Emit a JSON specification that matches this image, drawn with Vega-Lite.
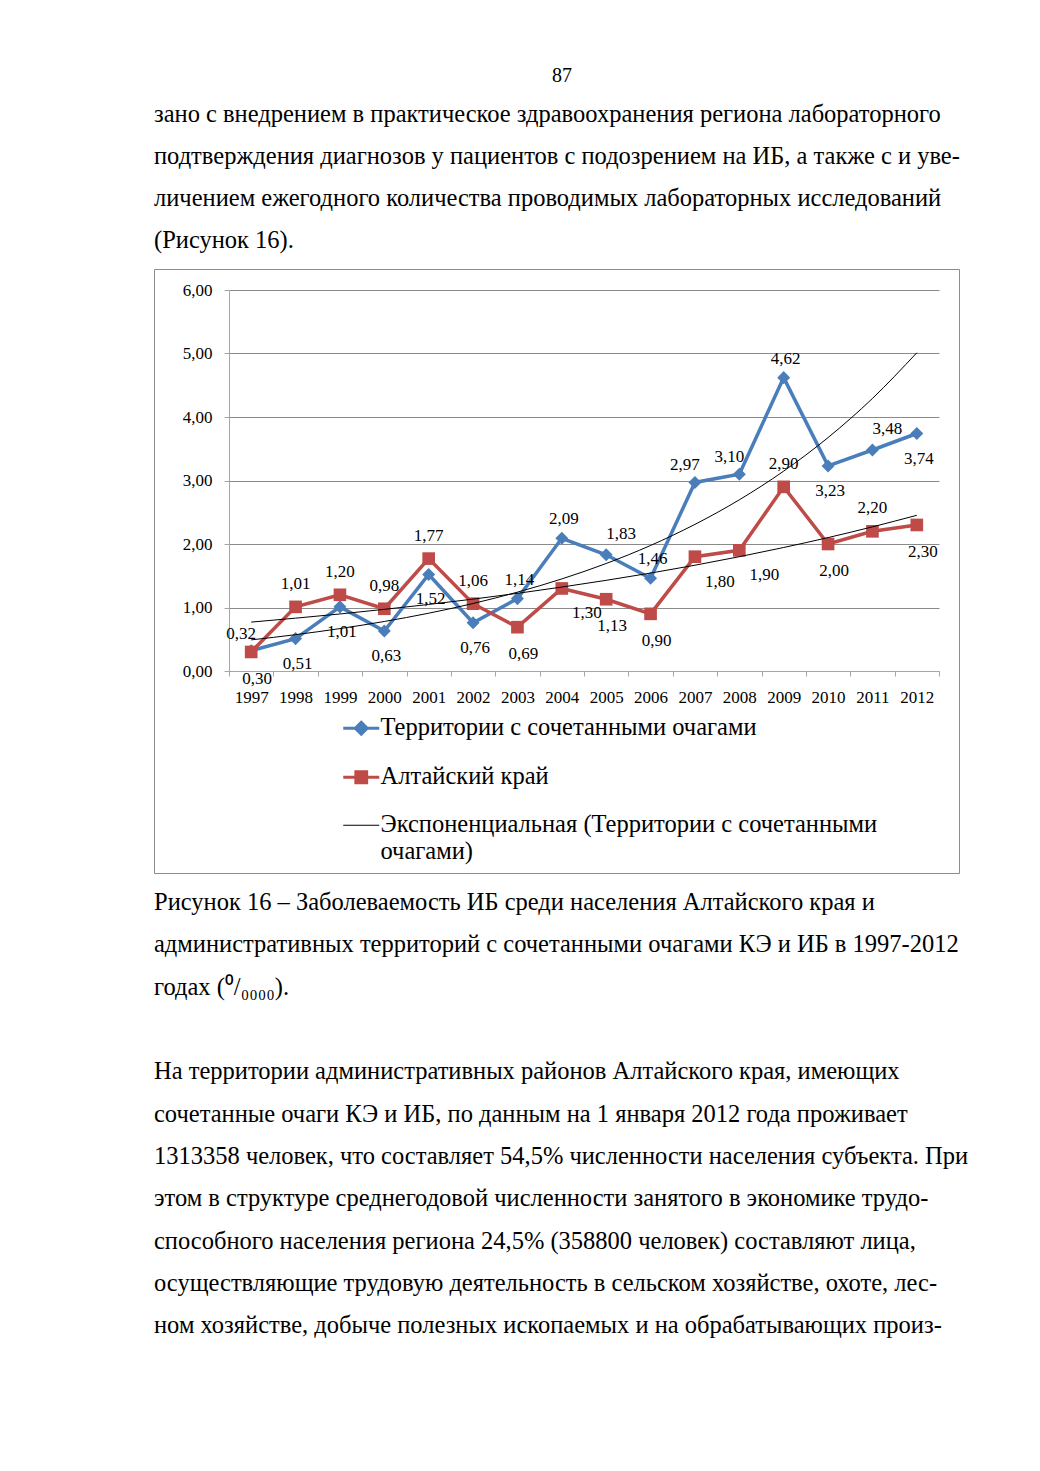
{
  "$schema": "https://vega.github.io/schema/vega-lite/v6.json",
  "background": "white",
  "padding": {"left": 153, "top": 66, "right": 0, "bottom": 0},
  "autosize": {"type": "pad"},
  "spacing": 8,
  "config": {
    "view": {"stroke": null},
    "font": "Liberation Serif",
    "locale": {"number": {"decimal": ",", "thousands": " ", "grouping": [3], "currency": ["", ""]}}
  },
  "datasets": {
    "pageTop": [
      {"line": 0, "text": "зано с внедрением в практическое здравоохранения региона лабораторного"},
      {"line": 1, "text": "подтверждения диагнозов у пациентов с подозрением на ИБ, а также с и уве-"},
      {"line": 2, "text": "личением ежегодного количества проводимых лабораторных исследований"},
      {"line": 3, "text": "(Рисунок 16)."}
    ],
    "pageBottom": [
      {"line": 0, "text": "          Рисунок 16 – Заболеваемость ИБ среди населения Алтайского края и"},
      {"line": 1, "text": "административных территорий с сочетанными очагами КЭ и ИБ в 1997-2012"},
      {"line": 2, "text": "годах (⁰/₀₀₀₀)."},
      {"line": 3, "text": ""},
      {"line": 4, "text": "          На территории административных районов Алтайского края, имеющих"},
      {"line": 5, "text": "сочетанные очаги КЭ и ИБ, по данным на 1 января 2012 года проживает"},
      {"line": 6, "text": "1313358 человек, что составляет 54,5% численности населения субъекта. При"},
      {"line": 7, "text": "этом в структуре среднегодовой численности занятого в экономике трудо-"},
      {"line": 8, "text": "способного населения региона 24,5% (358800 человек) составляют лица,"},
      {"line": 9, "text": "осуществляющие трудовую деятельность в сельском хозяйстве, охоте, лес-"},
      {"line": 10, "text": "ном хозяйстве, добыче полезных ископаемых и на обрабатывающих произ-"}
    ],
    "chart": [
      {"year": "1997", "series": "Территории с сочетанными очагами", "value": 0.32},
      {"year": "1998", "series": "Территории с сочетанными очагами", "value": 0.51},
      {"year": "1999", "series": "Территории с сочетанными очагами", "value": 1.01},
      {"year": "2000", "series": "Территории с сочетанными очагами", "value": 0.63},
      {"year": "2001", "series": "Территории с сочетанными очагами", "value": 1.52},
      {"year": "2002", "series": "Территории с сочетанными очагами", "value": 0.76},
      {"year": "2003", "series": "Территории с сочетанными очагами", "value": 1.14},
      {"year": "2004", "series": "Территории с сочетанными очагами", "value": 2.09},
      {"year": "2005", "series": "Территории с сочетанными очагами", "value": 1.83},
      {"year": "2006", "series": "Территории с сочетанными очагами", "value": 1.46},
      {"year": "2007", "series": "Территории с сочетанными очагами", "value": 2.97},
      {"year": "2008", "series": "Территории с сочетанными очагами", "value": 3.10},
      {"year": "2009", "series": "Территории с сочетанными очагами", "value": 4.62},
      {"year": "2010", "series": "Территории с сочетанными очагами", "value": 3.23},
      {"year": "2011", "series": "Территории с сочетанными очагами", "value": 3.48},
      {"year": "2012", "series": "Территории с сочетанными очагами", "value": 3.74},
      {"year": "1997", "series": "Алтайский край", "value": 0.30},
      {"year": "1998", "series": "Алтайский край", "value": 1.01},
      {"year": "1999", "series": "Алтайский край", "value": 1.20},
      {"year": "2000", "series": "Алтайский край", "value": 0.98},
      {"year": "2001", "series": "Алтайский край", "value": 1.77},
      {"year": "2002", "series": "Алтайский край", "value": 1.06},
      {"year": "2003", "series": "Алтайский край", "value": 0.69},
      {"year": "2004", "series": "Алтайский край", "value": 1.30},
      {"year": "2005", "series": "Алтайский край", "value": 1.13},
      {"year": "2006", "series": "Алтайский край", "value": 0.90},
      {"year": "2007", "series": "Алтайский край", "value": 1.80},
      {"year": "2008", "series": "Алтайский край", "value": 1.90},
      {"year": "2009", "series": "Алтайский край", "value": 2.90},
      {"year": "2010", "series": "Алтайский край", "value": 2.00},
      {"year": "2011", "series": "Алтайский край", "value": 2.20},
      {"year": "2012", "series": "Алтайский край", "value": 2.30},
      {"year": "1997", "series": "Экспоненциальная (Территории с сочетанными очагами)", "value": 0.490},
      {"year": "1998", "series": "Экспоненциальная (Территории с сочетанными очагами)", "value": 0.572},
      {"year": "1999", "series": "Экспоненциальная (Территории с сочетанными очагами)", "value": 0.668},
      {"year": "2000", "series": "Экспоненциальная (Территории с сочетанными очагами)", "value": 0.780},
      {"year": "2001", "series": "Экспоненциальная (Территории с сочетанными очагами)", "value": 0.910},
      {"year": "2002", "series": "Экспоненциальная (Территории с сочетанными очагами)", "value": 1.063},
      {"year": "2003", "series": "Экспоненциальная (Территории с сочетанными очагами)", "value": 1.242},
      {"year": "2004", "series": "Экспоненциальная (Территории с сочетанными очагами)", "value": 1.450},
      {"year": "2005", "series": "Экспоненциальная (Территории с сочетанными очагами)", "value": 1.693},
      {"year": "2006", "series": "Экспоненциальная (Территории с сочетанными очагами)", "value": 1.977},
      {"year": "2007", "series": "Экспоненциальная (Территории с сочетанными очагами)", "value": 2.309},
      {"year": "2008", "series": "Экспоненциальная (Территории с сочетанными очагами)", "value": 2.696},
      {"year": "2009", "series": "Экспоненциальная (Территории с сочетанными очагами)", "value": 3.148},
      {"year": "2010", "series": "Экспоненциальная (Территории с сочетанными очагами)", "value": 3.676},
      {"year": "2011", "series": "Экспоненциальная (Территории с сочетанными очагами)", "value": 4.292},
      {"year": "2012", "series": "Экспоненциальная (Территории с сочетанными очагами)", "value": 5.012},
      {"year": "1997", "series": "Экспоненциальная (Алтайский край)", "value": 0.770},
      {"year": "1998", "series": "Экспоненциальная (Алтайский край)", "value": 0.832},
      {"year": "1999", "series": "Экспоненциальная (Алтайский край)", "value": 0.898},
      {"year": "2000", "series": "Экспоненциальная (Алтайский край)", "value": 0.971},
      {"year": "2001", "series": "Экспоненциальная (Алтайский край)", "value": 1.048},
      {"year": "2002", "series": "Экспоненциальная (Алтайский край)", "value": 1.132},
      {"year": "2003", "series": "Экспоненциальная (Алтайский край)", "value": 1.223},
      {"year": "2004", "series": "Экспоненциальная (Алтайский край)", "value": 1.322},
      {"year": "2005", "series": "Экспоненциальная (Алтайский край)", "value": 1.428},
      {"year": "2006", "series": "Экспоненциальная (Алтайский край)", "value": 1.542},
      {"year": "2007", "series": "Экспоненциальная (Алтайский край)", "value": 1.666},
      {"year": "2008", "series": "Экспоненциальная (Алтайский край)", "value": 1.800},
      {"year": "2009", "series": "Экспоненциальная (Алтайский край)", "value": 1.945},
      {"year": "2010", "series": "Экспоненциальная (Алтайский край)", "value": 2.101},
      {"year": "2011", "series": "Экспоненциальная (Алтайский край)", "value": 2.270},
      {"year": "2012", "series": "Экспоненциальная (Алтайский край)", "value": 2.452}
    ]
  },
  "vconcat": [
    {
      "width": 816,
      "height": 166,
      "title": {"text": "87", "anchor": "middle", "frame": "group", "font": "Liberation Serif", "fontSize": 20, "fontWeight": "normal", "color": "black", "offset": 8},
      "data": {"name": "pageTop"},
      "mark": {"type": "text", "align": "left", "baseline": "middle", "font": "Liberation Serif", "fontSize": 24.5, "color": "black"},
      "encoding": {
        "y": {"field": "line", "type": "ordinal", "axis": null, "scale": {"type": "point", "range": [21, 147], "padding": 0}},
        "x": {"value": 0},
        "text": {"field": "text"}
      }
    },
    {
      "width": 805,
      "height": 604,
      "view": {"stroke": "#8C8C8C", "strokeWidth": 1},
      "data": {"name": "chart"},
      "encoding": {
        "x": {
          "field": "year", "type": "ordinal",
          "scale": {"type": "band", "range": [75, 785], "paddingInner": 0, "paddingOuter": 0},
          "axis": {"title": null, "offset": -202, "tickBand": "extent", "tickSize": 5, "domainColor": "#A6A6A6", "tickColor": "#A6A6A6", "labelFont": "Liberation Serif", "labelFontSize": 17, "labelColor": "black", "labelPadding": 13, "labelAngle": 0, "grid": false}
        },
        "y": {
          "field": "value", "type": "quantitative",
          "scale": {"domain": [0, 6], "range": [402, 21], "nice": false, "zero": false},
          "axis": {"title": null, "values": [0, 1, 2, 3, 4, 5, 6], "format": ".2f", "offset": -75, "grid": true, "gridColor": "#8A8A8A", "gridWidth": 1, "domainColor": "#A6A6A6", "tickColor": "#A6A6A6", "tickSize": 5, "labelFont": "Liberation Serif", "labelFontSize": 17, "labelColor": "black", "labelPadding": 12}
        },
        "color": {
          "field": "series", "type": "nominal",
          "scale": {"domain": ["Территории с сочетанными очагами", "Алтайский край", "Экспоненциальная (Территории с сочетанными очагами)"], "range": ["#4A7EBB", "#BE4B48", "#000000"]},
          "legend": {
            "title": null, "orient": "none", "legendX": 195, "legendY": 622, "direction": "vertical", "padding": 0,
            "labelFont": "Liberation Serif", "labelFontSize": 24.5, "labelColor": "black", "labelLimit": 800, "labelOffset": 7, "rowPadding": 23,
            "symbolSize": 1296, "symbolStrokeWidth": 3,
            "labelExpr": "datum.label == 'Экспоненциальная (Территории с сочетанными очагами)' ? ['Экспоненциальная (Территории с сочетанными', 'очагами)'] : datum.label",
            "encode": {
              "symbols": {"update": {
                "shape": {"signal": "datum.value == 'Территории с сочетанными очагами' ? 'M-1,0L1,0M0,-0.33L0.33,0L0,0.33L-0.33,0Z' : datum.value == 'Алтайский край' ? 'M-1,0L1,0M-0.3,-0.3L0.3,-0.3L0.3,0.3L-0.3,0.3Z' : 'M-1,0L1,0'"},
                "fill": {"signal": "datum.value == 'Территории с сочетанными очагами' ? '#4A7EBB' : datum.value == 'Алтайский край' ? '#BE4B48' : 'transparent'"},
                "stroke": {"signal": "datum.value == 'Территории с сочетанными очагами' ? '#4A7EBB' : datum.value == 'Алтайский край' ? '#BE4B48' : '#6F6F6F'"},
                "strokeWidth": {"signal": "datum.value == 'Экспоненциальная (Территории с сочетанными очагами)' ? 1.2 : 3"},
                "opacity": {"value": 1}
              }},
              "labels": {"update": {
                "lineHeight": {"value": 27}
              }}
            }
          }
        }
      },
      "layer": [
        {
          "transform": [{"filter": "datum.series == 'Территории с сочетанными очагами'"}],
          "mark": {"type": "line", "strokeWidth": 3.5}
        },
        {
          "transform": [{"filter": "datum.series == 'Территории с сочетанными очагами'"}],
          "mark": {"type": "point", "shape": "diamond", "filled": true, "size": 170, "opacity": 1}
        },
        {
          "transform": [{"filter": "datum.series == 'Алтайский край'"}],
          "mark": {"type": "line", "strokeWidth": 3.5}
        },
        {
          "transform": [{"filter": "datum.series == 'Алтайский край'"}],
          "mark": {"type": "point", "shape": "square", "filled": true, "size": 160, "opacity": 1}
        },
        {
          "transform": [{"filter": "datum.series == 'Экспоненциальная (Территории с сочетанными очагами)'"}],
          "mark": {"type": "line", "strokeWidth": 1, "interpolate": "monotone"}
        },
        {
          "transform": [{"filter": "datum.series == 'Экспоненциальная (Алтайский край)'"}],
          "mark": {"type": "line", "strokeWidth": 1, "interpolate": "monotone"},
          "encoding": {"color": {"value": "#000000"}}
        },
        {
          "transform": [{"filter": "datum.series == 'Территории с сочетанными очагами' && (datum.year == '2003' || datum.year == '2004' || datum.year == '2006' || datum.year == '2009')"}],
          "mark": {"type": "text", "font": "Liberation Serif", "fontSize": 17, "dx": 2, "dy": -19},
          "encoding": {"text": {"field": "value", "type": "quantitative", "format": ".2f"}, "color": {"value": "black"}}
        },
        {
          "transform": [{"filter": "datum.series == 'Территории с сочетанными очагами' && (datum.year == '1998' || datum.year == '1999' || datum.year == '2000' || datum.year == '2001' || datum.year == '2002' || datum.year == '2010' || datum.year == '2012')"}],
          "mark": {"type": "text", "font": "Liberation Serif", "fontSize": 17, "dx": 2, "dy": 25},
          "encoding": {"text": {"field": "value", "type": "quantitative", "format": ".2f"}, "color": {"value": "black"}}
        },
        {
          "transform": [{"filter": "datum.series == 'Территории с сочетанными очагами' && (datum.year == '1997' || datum.year == '2007' || datum.year == '2008')"}],
          "mark": {"type": "text", "font": "Liberation Serif", "fontSize": 17, "dx": -10, "dy": -17},
          "encoding": {"text": {"field": "value", "type": "quantitative", "format": ".2f"}, "color": {"value": "black"}}
        },
        {
          "transform": [{"filter": "datum.series == 'Территории с сочетанными очагами' && (datum.year == '2005' || datum.year == '2011')"}],
          "mark": {"type": "text", "font": "Liberation Serif", "fontSize": 17, "dx": 15, "dy": -21},
          "encoding": {"text": {"field": "value", "type": "quantitative", "format": ".2f"}, "color": {"value": "black"}}
        },
        {
          "transform": [{"filter": "datum.series == 'Алтайский край' && (datum.year == '1998' || datum.year == '1999' || datum.year == '2000' || datum.year == '2001' || datum.year == '2002' || datum.year == '2009' || datum.year == '2011')"}],
          "mark": {"type": "text", "font": "Liberation Serif", "fontSize": 17, "dx": 0, "dy": -23},
          "encoding": {"text": {"field": "value", "type": "quantitative", "format": ".2f"}, "color": {"value": "black"}}
        },
        {
          "transform": [{"filter": "datum.series == 'Алтайский край' && (datum.year == '1997' || datum.year == '2003' || datum.year == '2005' || datum.year == '2006' || datum.year == '2010' || datum.year == '2012')"}],
          "mark": {"type": "text", "font": "Liberation Serif", "fontSize": 17, "dx": 6, "dy": 27},
          "encoding": {"text": {"field": "value", "type": "quantitative", "format": ".2f"}, "color": {"value": "black"}}
        },
        {
          "transform": [{"filter": "datum.series == 'Алтайский край' && (datum.year == '2004' || datum.year == '2007' || datum.year == '2008')"}],
          "mark": {"type": "text", "font": "Liberation Serif", "fontSize": 17, "dx": 25, "dy": 25},
          "encoding": {"text": {"field": "value", "type": "quantitative", "format": ".2f"}, "color": {"value": "black"}}
        }
      ]
    },
    {
      "width": 816,
      "height": {"step": 42.3},
      "data": {"name": "pageBottom"},
      "mark": {"type": "text", "align": "left", "baseline": "middle", "font": "Liberation Serif", "fontSize": 24.5, "color": "black"},
      "encoding": {
        "y": {"field": "line", "type": "ordinal", "axis": null},
        "x": {"value": 0},
        "text": {"field": "text"}
      }
    }
  ]
}
